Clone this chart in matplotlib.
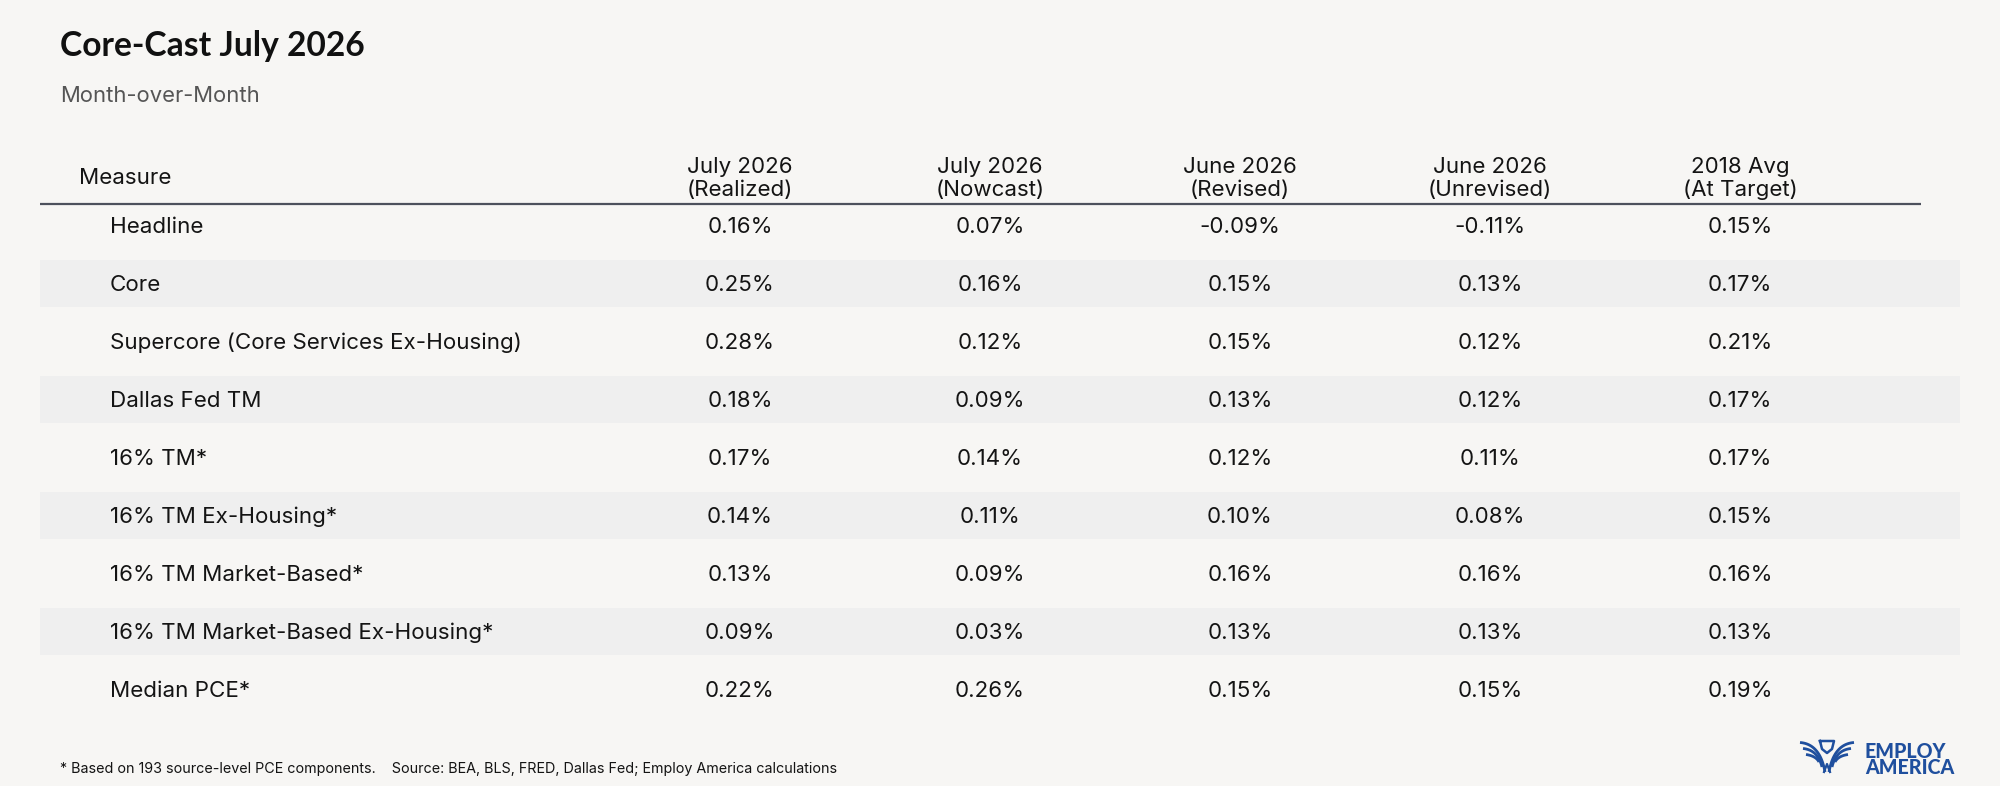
import matplotlib
matplotlib.use("Agg")
import matplotlib.pyplot as plt
import numpy as np
from matplotlib.patches import Rectangle

# ---------------- data ----------------
title = "Core-Cast July 2026"
subtitle = "Month-over-Month"
measure_header = "Measure"
col_headers_top = ["July 2026", "July 2026", "June 2026", "June 2026", "2018 Avg"]
col_headers_bottom = ["(Realized)", "(Nowcast)", "(Revised)", "(Unrevised)", "(At Target)"]
measures = [
    "Headline",
    "Core",
    "Supercore (Core Services Ex-Housing)",
    "Dallas Fed TM",
    "16% TM*",
    "16% TM Ex-Housing*",
    "16% TM Market-Based*",
    "16% TM Market-Based Ex-Housing*",
    "Median PCE*",
]
july_realized = [0.16, 0.25, 0.28, 0.18, 0.17, 0.14, 0.13, 0.09, 0.22]
july_nowcast = [0.07, 0.16, 0.12, 0.09, 0.14, 0.11, 0.09, 0.03, 0.26]
june_revised = [-0.09, 0.15, 0.15, 0.13, 0.12, 0.10, 0.16, 0.13, 0.15]
june_unrevised = [-0.11, 0.13, 0.12, 0.12, 0.11, 0.08, 0.16, 0.13, 0.15]
avg_2018 = [0.15, 0.17, 0.21, 0.17, 0.17, 0.15, 0.16, 0.13, 0.19]
footnote = ("* Based on 193 source-level PCE components.    "
            "Source: BEA, BLS, FRED, Dallas Fed; Employ America calculations")
logo_lines = ["EMPLOY", "AMERICA"]

columns = [july_realized, july_nowcast, june_revised, june_unrevised, avg_2018]

# ---------------- style ----------------
W, H = 2000, 786
DPI = 100
BG = "#f7f6f4"
BAND = "#efefef"
TXT = "#141414"
SUB = "#555555"
RULE = "#4d515c"
BLUE = "#1f4f9e"
BODY_FONT = ["Inter", "DejaVu Sans"]
TITLE_FONT = ["Lato", "DejaVu Sans"]

fig = plt.figure(figsize=(W / DPI, H / DPI), dpi=DPI)
fig.patch.set_facecolor(BG)
ax = fig.add_axes([0, 0, 1, 1])
ax.set_xlim(0, W)
ax.set_ylim(H, 0)
ax.axis("off")
ax.set_facecolor(BG)

# layout (pixels)
x_left, x_label = 40, 110
col_x = [740, 990, 1240, 1490, 1740]
row0, row_step = 227.0, 58.0
band_h = 47
band_c = 283.5 - 227.0  # band centre offset relative to the first banded row
band_right = 1960
rule_right = 1921
rule_y = 203.5

texts_body = []

# title + subtitle
t_title = ax.text(60, 56, title, fontsize=24, fontweight="bold", family=TITLE_FONT,
                  color="#111111", va="baseline", ha="left")
t_sub = ax.text(60, 95.5, subtitle, fontsize=14, family=BODY_FONT, color=SUB,
                va="center", ha="left")

# header
texts_body.append(ax.text(79, 178.5, measure_header, fontsize=15, family=BODY_FONT,
                          color=TXT, va="center", ha="left"))
for cx, top, bot in zip(col_x, col_headers_top, col_headers_bottom):
    texts_body.append(ax.text(cx, 167, top, fontsize=15, family=BODY_FONT,
                              color=TXT, va="center", ha="center"))
    texts_body.append(ax.text(cx, 190, bot, fontsize=15, family=BODY_FONT,
                              color=TXT, va="center", ha="center"))
ax.plot([x_left, rule_right], [rule_y, rule_y], color=RULE, lw=1.6,
        solid_capstyle="butt")

# rows
ref_label = None
for i, name in enumerate(measures):
    y = row0 + i * row_step
    if i % 2 == 1:
        yc = y - 1.5
        ax.add_patch(Rectangle((x_left, yc - band_h / 2), band_right - x_left, band_h,
                               facecolor=BAND, edgecolor="none", zorder=0))
    t = ax.text(x_label, y, name, fontsize=15, family=BODY_FONT, color=TXT,
                va="center", ha="left")
    texts_body.append(t)
    if name.startswith("Supercore"):
        ref_label = t
    for cx, col in zip(col_x, columns):
        texts_body.append(ax.text(cx, y, f"{col[i]:.2f}%", fontsize=15,
                                  family=BODY_FONT, color=TXT, va="center",
                                  ha="center"))

# footnote
t_foot = ax.text(60, 769, footnote, fontsize=10, family=BODY_FONT, color=TXT,
                 va="center", ha="left")

# logo text
t_logo1 = ax.text(1865, 751, logo_lines[0], fontsize=12, family=["Lato", "DejaVu Sans"],
                  fontweight="black", color=BLUE, va="center", ha="left")
t_logo2 = ax.text(1865, 767, logo_lines[1], fontsize=12, family=["Lato", "DejaVu Sans"],
                  fontweight="black", color=BLUE, va="center", ha="left")

# logo icon (stylised eagle)
cx0 = 1827
icon_lw = 2.0
ax.plot([cx0 - 7, cx0 + 7, cx0 + 5, cx0, cx0 - 5, cx0 - 7],
        [741, 741, 749, 753, 749, 741], color=BLUE, lw=1.8)
tt = np.linspace(0, 1, 30)
for k in range(3):
    for s in (-1, 1):
        p0 = np.array([cx0 + s * (27 - 3 * k), 742.5 + 6 * k])
        p1 = np.array([cx0 + s * (7 + 2 * k), 744 + 6 * k])
        p2 = np.array([cx0 + s * (2 + 3 * k), 772 - 5 * k])
        pts = ((1 - tt) ** 2)[:, None] * p0 + (2 * (1 - tt) * tt)[:, None] * p1 \
            + (tt ** 2)[:, None] * p2
        ax.plot(pts[:, 0], pts[:, 1], color=BLUE, lw=icon_lw, solid_capstyle="butt")
ax.plot([cx0 - 3, cx0, cx0 + 3], [772, 764, 772], color=BLUE, lw=1.6)

# ---- fit font sizes to measured widths ----
fig.canvas.draw()
r = fig.canvas.get_renderer()


def width(t):
    return t.get_window_extent(r).width


body_scale = 411.0 / width(ref_label)
for t in texts_body:
    t.set_fontsize(t.get_fontsize() * body_scale)
for t, target in [(t_title, 306.0), (t_sub, 200.0), (t_foot, 781.0),
                  (t_logo2, 89.0)]:
    t.set_fontsize(t.get_fontsize() * target / width(t))
t_logo1.set_fontsize(t_logo2.get_fontsize())

fig.savefig("out.png", dpi=DPI, facecolor=BG)
